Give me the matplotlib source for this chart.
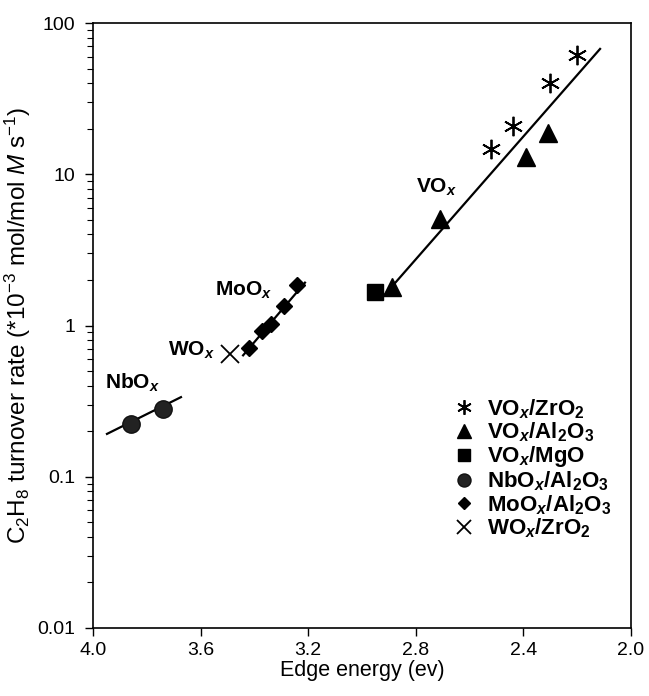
import matplotlib
matplotlib.use("Agg")
import matplotlib.pyplot as plt
from matplotlib.ticker import LogLocator, FixedLocator, NullFormatter

plt.rcParams['font.family'] = ['Liberation Sans', 'DejaVu Sans']
plt.rcParams['mathtext.fontset'] = 'custom'
plt.rcParams['mathtext.rm'] = 'Liberation Sans'
plt.rcParams['mathtext.it'] = 'Liberation Sans:italic'
plt.rcParams['mathtext.bf'] = 'Liberation Sans:bold'
plt.rcParams['mathtext.bfit'] = 'Liberation Sans:italic:bold'

# Data (edge energy eV, turnover rate)
vzr_x = [2.20, 2.30, 2.44, 2.52]
vzr_y = [61.6, 40.3, 21.0, 14.6]
val_x = [2.31, 2.39, 2.71, 2.89]
val_y = [18.6, 13.1, 5.06, 1.81]
vmg_x = [2.95]
vmg_y = [1.67]
nb_x = [3.86, 3.74]
nb_y = [0.223, 0.28]
mo_x = [3.42, 3.37, 3.34, 3.29, 3.24]
mo_y = [0.706, 0.914, 1.02, 1.35, 1.86]
w_x = [3.49]
w_y = [0.644]

# fit lines (endpoints)
vline_x = [2.115, 2.915]
vline_y = [67.4, 1.60]
nbline_x = [3.948, 3.673]
nbline_y = [0.192, 0.336]
moline_x = [3.442, 3.212]
moline_y = [0.635, 1.92]

xticks = [4.0, 3.6, 3.2, 2.8, 2.4, 2.0]
yticks = [0.01, 0.1, 1, 10, 100]
ylabels = ['0.01', '0.1', '1', '10', '100']

fig = plt.figure(figsize=(6.49, 6.96), dpi=100)
ax = fig.add_axes([93/649, 68/696, (631-93)/649, (628-23)/696])

ax.plot(vline_x, vline_y, color='black', lw=1.6, zorder=2)
ax.plot(nbline_x, nbline_y, color='black', lw=1.6, zorder=2)
ax.plot(moline_x, moline_y, color='black', lw=1.6, zorder=2)

ax.plot(vzr_x, vzr_y, ls='none', marker=(6, 2, 0), ms=14, mec='black', mew=1.3,
        label=r'VO$_{\mathbfit{x}}$/ZrO$_{\mathbf{2}}$', zorder=3)
ax.plot(val_x, val_y, ls='none', marker='^', ms=13, color='black',
        label=r'VO$_{\mathbfit{x}}$/Al$_{\mathbf{2}}$O$_{\mathbf{3}}$', zorder=3)
ax.plot(vmg_x, vmg_y, ls='none', marker='s', ms=11, color='black',
        label=r'VO$_{\mathbfit{x}}$/MgO', zorder=3)
ax.plot(nb_x, nb_y, ls='none', marker='o', ms=12.5, color='#222222', mec='#111111',
        label=r'NbO$_{\mathbfit{x}}$/Al$_{\mathbf{2}}$O$_{\mathbf{3}}$', zorder=3)
ax.plot(mo_x, mo_y, ls='none', marker='D', ms=8.5, color='black',
        label=r'MoO$_{\mathbfit{x}}$/Al$_{\mathbf{2}}$O$_{\mathbf{3}}$', zorder=3)
ax.plot(w_x, w_y, ls='none', marker='x', ms=13, mec='black', mew=1.3,
        label=r'WO$_{\mathbfit{x}}$/ZrO$_{\mathbf{2}}$', zorder=3)

ax.set_yscale('log')
ax.set_xlim(4.0, 2.0)
ax.set_ylim(0.01, 100)
ax.xaxis.set_major_locator(FixedLocator(xticks))
ax.set_xticklabels(['%.1f' % t for t in xticks])
ax.yaxis.set_major_locator(FixedLocator(yticks))
ax.set_yticklabels(ylabels)
ax.yaxis.set_minor_locator(LogLocator(base=10, subs=range(2, 10)))
ax.yaxis.set_minor_formatter(NullFormatter())
ax.tick_params(axis='both', which='major', direction='out', length=6, width=1,
               labelsize=14)
ax.tick_params(axis='y', which='major', pad=7)
ax.tick_params(axis='x', which='major', pad=4)
ax.tick_params(axis='y', which='minor', direction='out', length=4, width=0.8)
ax.tick_params(axis='x', which='minor', bottom=False)
for s in ax.spines.values():
    s.set_linewidth(1.2)

ax.set_xlabel('Edge energy (ev)', fontsize=15.5, labelpad=1)
ax.set_ylabel(r'C$_2$H$_8$ turnover rate (*10$^{-3}$ mol/mol $\mathit{M}$ s$^{-1}$)',
              fontsize=17.5, labelpad=3)

lab_kw = dict(fontsize=15, fontweight='bold', ha='left', va='center')
ax.text(2.80, 8.2, r'VO$_{\mathbfit{x}}$', **lab_kw)
ax.text(3.546, 1.72, r'MoO$_{\mathbfit{x}}$', **lab_kw)
ax.text(3.72, 0.689, r'WO$_{\mathbfit{x}}$', **lab_kw)
ax.text(3.955, 0.417, r'NbO$_{\mathbfit{x}}$', **lab_kw)

leg = ax.legend(loc='lower right', bbox_to_anchor=(1.0, 0.112), frameon=False,
                prop={'size': 16, 'weight': 'bold'}, handletextpad=0.42,
                labelspacing=0.0, handlelength=1.2, markerscale=0.75)

fig.savefig('out.png', dpi=100)
